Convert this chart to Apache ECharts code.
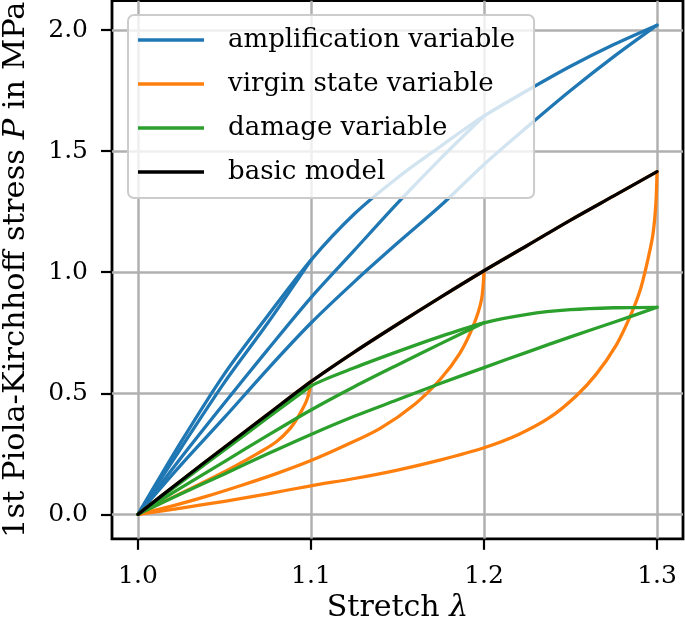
<!DOCTYPE html>
<html>
<head>
<meta charset="utf-8">
<script src="https://cdn.jsdelivr.net/npm/echarts@6/dist/echarts.min.js"></script>
<style>
html,body{margin:0;padding:0;background:#fff;}
#chart{width:685px;height:627px;}
</style>
</head>
<body>
<div id="chart"></div>
<script>
// ---- data ----
const xTicks = [1.0, 1.1, 1.2, 1.3];
const yTicks = [0.0, 0.5, 1.0, 1.5, 2.0];
const seriesNames = ['amplification variable', 'virgin state variable', 'damage variable', 'basic model'];

// common stretch grid
const lam = [1.0, 1.025, 1.05, 1.075, 1.1, 1.125, 1.15, 1.175, 1.2, 1.225, 1.25, 1.275, 1.3];
const lamTo11 = [1.0, 1.025, 1.05, 1.075, 1.1];
const lamTo12 = [1.0, 1.025, 1.05, 1.075, 1.1, 1.125, 1.15, 1.175, 1.2];

// basic model
const basicModel = [0, 0.14, 0.277, 0.413, 0.548, 0.67, 0.785, 0.897, 1.006, 1.11, 1.215, 1.315, 1.415];

// amplification variable
const ampLoading = [0, 0.30, 0.58, 0.82, 1.05, 1.24, 1.39, 1.52, 1.645, 1.75, 1.85, 1.94, 2.02];
const ampUnload1 = [0, 0.275, 0.545, 0.79, 1.05];
const ampUnload2 = [0, 0.235, 0.46, 0.68, 0.895, 1.09, 1.285, 1.47, 1.645];
const ampUnload3 = [0, 0.205, 0.40, 0.60, 0.79, 0.96, 1.12, 1.275, 1.445, 1.6, 1.75, 1.89, 2.02];

// virgin state variable
const virginLoading = [0, 0.14, 0.277, 0.413, 0.548, 0.67, 0.785, 0.897, 1.006, 1.11, 1.215, 1.315, 1.415];
const virginUnload1Lam = [1.0, 1.02, 1.04, 1.055, 1.07, 1.08, 1.088, 1.094, 1.098, 1.1];
const virginUnload1 = [0, 0.07, 0.14, 0.195, 0.255, 0.30, 0.355, 0.42, 0.48, 0.548];
const virginUnload2Lam = [1.0, 1.02, 1.04, 1.06, 1.08, 1.1, 1.12, 1.14, 1.16, 1.175, 1.186, 1.1936, 1.1985, 1.2];
const virginUnload2 = [0, 0.035, 0.075, 0.12, 0.168, 0.222, 0.285, 0.355, 0.455, 0.56, 0.665, 0.775, 0.885, 1.006];
const virginUnload3Lam = [1.0, 1.025, 1.05, 1.075, 1.1, 1.125, 1.15, 1.175, 1.2, 1.22, 1.238, 1.2534, 1.265, 1.2765, 1.284, 1.29, 1.294, 1.2975, 1.2993, 1.3];
const virginUnload3 = [0, 0.026, 0.054, 0.085, 0.118, 0.148, 0.183, 0.225, 0.275, 0.33, 0.40, 0.49, 0.58, 0.70, 0.81, 0.92, 1.03, 1.15, 1.28, 1.415];

// damage variable
const dmgLoading = [0, 0.139, 0.275, 0.407, 0.53, 0.605, 0.672, 0.735, 0.791, 0.826, 0.845, 0.853, 0.855];
const dmgUnload1 = [0, 0.133, 0.266, 0.399, 0.53];
const dmgUnload2 = [0, 0.11, 0.218, 0.326, 0.431, 0.527, 0.617, 0.705, 0.791];
const dmgUnload3 = [0, 0.085, 0.167, 0.25, 0.33, 0.405, 0.473, 0.541, 0.606, 0.67, 0.733, 0.793, 0.855];

// ---- chart ----
const colors = {
  'amplification variable': '#1f77b4',
  'virgin state variable': '#ff7f0e',
  'damage variable': '#2ca02c',
  'basic model': '#000000'
};
const FONT = 'DejaVu Serif';
const LW = 3.3;

function seg(name, xs, ys) {
  return {
    type: 'line',
    name: name,
    data: xs.map((x, i) => [x, ys[i]]),
    symbol: 'none',
    showSymbol: false,
    smooth: 0.3,
    lineStyle: { width: LW, color: colors[name], cap: 'round', join: 'round' },
    itemStyle: { color: colors[name] },
    color: colors[name],
    animation: false,
    emphasis: { disabled: true }
  };
}

const series = [
  seg(seriesNames[0], lam, ampLoading),
  seg(seriesNames[0], lamTo11, ampUnload1),
  seg(seriesNames[0], lamTo12, ampUnload2),
  seg(seriesNames[0], lam, ampUnload3),
  seg(seriesNames[1], lam, virginLoading),
  seg(seriesNames[1], virginUnload1Lam, virginUnload1),
  seg(seriesNames[1], virginUnload2Lam, virginUnload2),
  seg(seriesNames[1], virginUnload3Lam, virginUnload3),
  seg(seriesNames[2], lam, dmgLoading),
  seg(seriesNames[2], lamTo11, dmgUnload1),
  seg(seriesNames[2], lamTo12, dmgUnload2),
  seg(seriesNames[2], lam, dmgUnload3),
  seg(seriesNames[3], lam, basicModel)
];

const chart = echarts.init(document.getElementById('chart'), null, { renderer: 'canvas' });
chart.setOption({
  backgroundColor: '#ffffff',
  animation: false,
  textStyle: { fontFamily: FONT, color: '#000' },
  grid: {
    left: 112, right: 2, top: 0.7, bottom: 88.2,
    show: true, borderColor: '#000', borderWidth: 2.8, backgroundColor: 'transparent',
    containLabel: false,
    outerBoundsMode: 'none'
  },
  legend: {
    data: seriesNames.map(n => ({ name: n, icon: 'rect', itemStyle: { color: colors[n] } })),
    left: 128, top: 15,
    orient: 'vertical',
    itemWidth: 66, itemHeight: 3.3, itemGap: 18,
    padding: [12, 19, 13, 10],
    backgroundColor: 'rgba(255,255,255,0.8)',
    borderColor: '#cccccc', borderWidth: 2, borderRadius: 6,
    textStyle: { fontFamily: FONT, fontSize: 26, color: '#000', padding: [0, 0, 0, 19] },
    selectedMode: false
  },
  xAxis: {
    type: 'value', min: 0.985, max: 1.315,
    name: 'Stretch {i|λ}', nameLocation: 'middle', nameGap: 53,
    nameTextStyle: { fontFamily: FONT, fontSize: 30, color: '#000',
      rich: { i: { fontFamily: FONT, fontSize: 30, fontStyle: 'italic', color: '#000' } } },
    axisLine: { show: false, onZero: false },
    axisTick: { show: true, inside: false, length: 11, lineStyle: { color: '#000', width: 2.2 }, customValues: xTicks },
    axisLabel: { customValues: xTicks, margin: 25, fontFamily: FONT, fontSize: 25, color: '#000',
      formatter: v => v.toFixed(1) },
    splitLine: { show: true, lineStyle: { color: '#b0b0b0', width: 2.5 } }
  },
  yAxis: {
    type: 'value', min: -0.101, max: 2.121,
    name: '1st Piola-Kirchhoff stress {i|P} in MPa', nameLocation: 'middle', nameGap: 80,
    nameTextStyle: { fontFamily: FONT, fontSize: 30.5, color: '#000',
      rich: { i: { fontFamily: FONT, fontSize: 30.5, fontStyle: 'italic', color: '#000' } } },
    axisLine: { show: false, onZero: false },
    axisTick: { show: true, inside: false, length: 11, lineStyle: { color: '#000', width: 2.2 }, customValues: yTicks },
    axisLabel: { customValues: yTicks, margin: 24, fontFamily: FONT, fontSize: 25, color: '#000',
      formatter: v => v.toFixed(1) },
    splitLine: { show: true, lineStyle: { color: '#b0b0b0', width: 2.5 } }
  },
  series: series
});
</script>
</body>
</html>
